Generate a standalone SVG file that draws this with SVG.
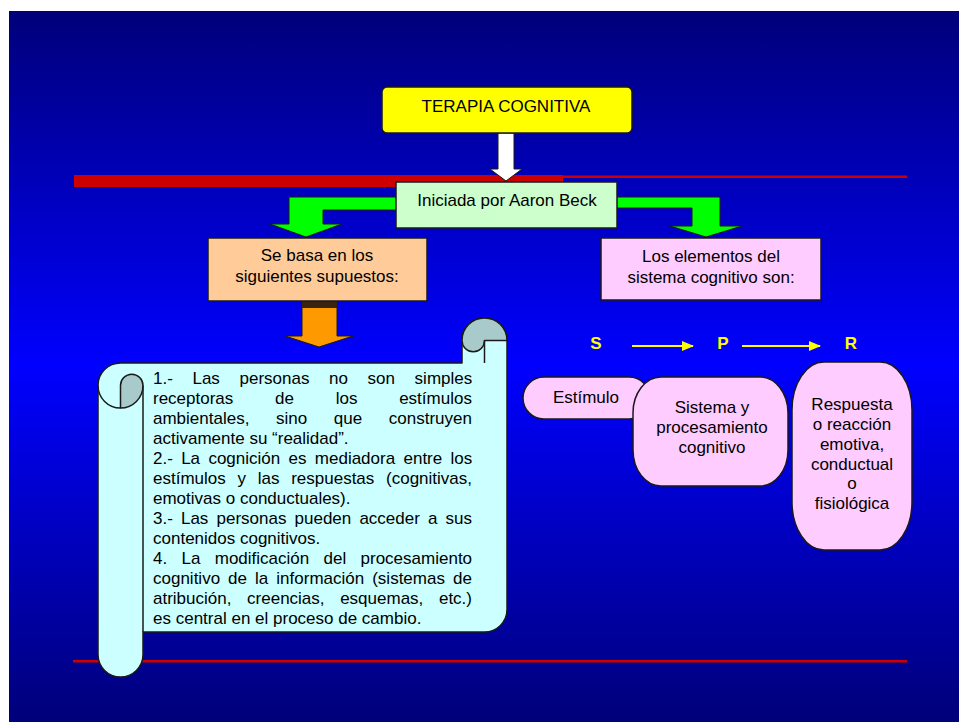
<svg xmlns="http://www.w3.org/2000/svg" width="959" height="722" viewBox="0 0 959 722">
  <defs>
    <linearGradient id="bg" x1="0" y1="0" x2="0" y2="1">
      <stop offset="0" stop-color="#00007A"/>
      <stop offset="0.5" stop-color="#0000FF"/>
      <stop offset="1" stop-color="#00007A"/>
    </linearGradient>
    <marker id="yhead" markerWidth="12" markerHeight="10" refX="11" refY="5" orient="auto" markerUnits="userSpaceOnUse">
      <path d="M0,0 L12,5 L0,10 Z" fill="#FFFF00"/>
    </marker>
    <style>
      text { font-family: "Liberation Sans", Arial, sans-serif; fill: #000; }
      .lbl { font-size: 17px; text-anchor: middle; }
      .body { font-size: 17px; }
      .spr { font-size: 17px; font-weight: bold; fill: #FFFF00; text-anchor: middle; }
      .box { stroke: #1a1a1a; stroke-width: 1.5; }
      .arrow { stroke: #1a1a1a; stroke-width: 1; stroke-linejoin: miter; }
      .scroll { fill: #CCFFFF; stroke: #1a1a1a; stroke-width: 1.5; stroke-linejoin: round; }
      .curl { fill: #A8CACA; stroke: #1a1a1a; stroke-width: 1.5; stroke-linejoin: round; }
      .edge { fill: none; stroke: #1a1a1a; stroke-width: 1.5; }
      .yline { stroke: #FFFF00; stroke-width: 2; fill: none; }
      .rule { fill: #CC0000; }
    </style>
  </defs>

  <!-- slide background -->
  <rect x="9" y="11" width="950" height="711" fill="url(#bg)"/>

  <!-- red rules -->
  <rect class="rule" x="74" y="175" width="489" height="12"/>
  <rect class="rule" x="563" y="175.5" width="344" height="2.5"/>
  <rect class="rule" x="73" y="660" width="834" height="2.5"/>

  <!-- connectors -->
  <g id="connectors">
    <polygon class="arrow" fill="#FFFFFF" points="498,133 514,133 514,169 522,169 506,181 490,169 498,169"/>
    <polygon class="arrow" fill="#00FF00" points="400,197 289,197 289,224 270,224 306,237 342,224 323,224 323,210 400,210"/>
    <polygon class="arrow" fill="#00FF00" points="613,197 720,197 720,226 742,226 706,237 670,226 692,226 692,208 613,208"/>
    <polygon class="arrow" fill="#FF9900" points="302,301 337,301 337,336 353,336 319,347 285,336 302,336"/>
    <rect x="302" y="301" width="35" height="7" fill="#3a2410"/>
    <line class="yline" x1="632" y1="346" x2="693" y2="346" marker-end="url(#yhead)"/>
    <line class="yline" x1="742" y1="346" x2="820" y2="346" marker-end="url(#yhead)"/>
  </g>

  <g id="terapia">
    <rect class="box" x="382" y="87" width="250" height="46" rx="5" fill="#FFFF00"/>
    <text class="lbl" x="506" y="112">TERAPIA COGNITIVA</text>
  </g>

  <g id="beck">
    <rect class="box" x="396" y="182" width="221" height="46" fill="#CCFFCC"/>
    <text class="lbl" x="507" y="206">Iniciada por Aaron Beck</text>
  </g>

  <g id="supuestos">
    <rect class="box" x="208" y="238" width="219" height="63" fill="#FFCC99"/>
    <text class="lbl" x="317" y="261">Se basa en los</text>
    <text class="lbl" x="317" y="282">siguientes supuestos:</text>
  </g>

  <g id="elementos">
    <rect class="box" x="601" y="238" width="220" height="62" fill="#FFCCFF"/>
    <text class="lbl" x="711" y="262">Los elementos del</text>
    <text class="lbl" x="711" y="283">sistema cognitivo son:</text>
  </g>

  <!-- scroll with the four assumptions -->
  <g id="scroll">
    <path class="scroll" d="M120.5,677 A22.5,22.5 0 0 1 98,654.5 L98,385.5 A22.5,22.5 0 0 1 120.5,363 L462,363 L462,340.5 A22.5,22.5 0 0 1 507,340.5 L507,609.5 A22.5,22.5 0 0 1 484.5,632 L143,632 L143,654.5 A22.5,22.5 0 0 1 120.5,677 Z"/>
    <!-- top-right curl -->
    <path class="curl" d="M462,340.5 A22.5,22.5 0 0 1 507,340.5 L484.5,340.5 A11.25,11.25 0 0 1 462,340.5 Z"/>
    <line class="edge" x1="484.5" y1="340.5" x2="484.5" y2="363"/>
    <!-- left roll -->
    <path class="curl" d="M120.5,408 L120.5,385.5 A11.25,11.25 0 0 1 143,385.5 A22.5,22.5 0 0 1 120.5,408 Z"/>
    <path class="edge" d="M98,385.5 A22.5,22.5 0 0 0 120.5,408"/>
    <line class="edge" x1="143" y1="385.5" x2="143" y2="632"/>

    <!-- justified paragraph: word-spacing stretches each full line to 319px -->
    <text class="body" x="153" y="384" style="word-spacing:14.9px">1.- Las personas no son simples</text>
    <text class="body" x="153" y="404" style="word-spacing:37px">receptoras de los estímulos</text>
    <text class="body" x="153" y="424" style="word-spacing:21.9px">ambientales, sino que construyen</text>
    <text class="body" x="153" y="444">activamente su “realidad”.</text>
    <text class="body" x="153" y="464" style="word-spacing:3.6px">2.- La cognición es mediadora entre los</text>
    <text class="body" x="153" y="484" style="word-spacing:7px">estímulos y las respuestas (cognitivas,</text>
    <text class="body" x="153" y="504">emotivas o conductuales).</text>
    <text class="body" x="153" y="524" style="word-spacing:3.4px">3.- Las personas pueden acceder a sus</text>
    <text class="body" x="153" y="544">contenidos cognitivos.</text>
    <text class="body" x="153" y="564" style="word-spacing:9.6px">4. La modificación del procesamiento</text>
    <text class="body" x="153" y="584" style="word-spacing:3.3px">cognitivo de la información (sistemas de</text>
    <text class="body" x="153" y="604" style="word-spacing:10.9px">atribución, creencias, esquemas, etc.)</text>
    <text class="body" x="153" y="624">es central en el proceso de cambio.</text>
  </g>

  <!-- S -> P -> R labels -->
  <g id="spr">
    <text class="spr" x="596" y="349">S</text>
    <text class="spr" x="723" y="349">P</text>
    <text class="spr" x="851" y="349">R</text>
  </g>

  <g id="estimulo">
    <rect class="box" x="523" y="377" width="127" height="42" rx="21" ry="21" fill="#FFCCFF"/>
    <text class="lbl" x="586" y="403">Estímulo</text>
  </g>

  <g id="sistema">
    <rect class="box" x="633" y="377" width="155" height="109" rx="28" ry="36" fill="#FFCCFF"/>
    <text class="lbl" x="712" y="413">Sistema y</text>
    <text class="lbl" x="712" y="433">procesamiento</text>
    <text class="lbl" x="712" y="453">cognitivo</text>
  </g>

  <g id="respuesta">
    <rect class="box" x="792" y="362" width="120" height="188" rx="32" ry="48" fill="#FFCCFF"/>
    <text class="lbl" x="852" y="410">Respuesta</text>
    <text class="lbl" x="852" y="430">o reacción</text>
    <text class="lbl" x="852" y="450">emotiva,</text>
    <text class="lbl" x="852" y="470">conductual</text>
    <text class="lbl" x="852" y="489">o</text>
    <text class="lbl" x="852" y="509">fisiológica</text>
  </g>
</svg>
